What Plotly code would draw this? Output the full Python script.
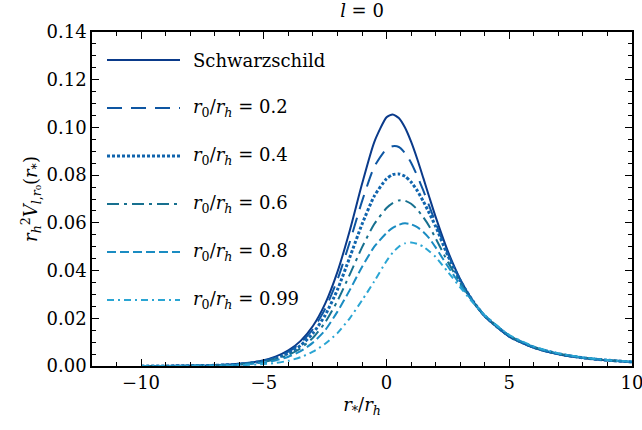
import plotly.graph_objects as go

# ---------------- data ----------------
r_star = [-10, -9, -8, -7, -6, -5, -4.5, -4, -3.5, -3, -2.5, -2, -1.5, -1, -0.5,
          0, 0.25, 0.5, 0.75, 1, 1.25, 1.5, 1.75, 2, 2.5, 3, 3.5, 4, 5, 6, 7, 8, 9, 10]

V_schw = [0.00002, 0.00005, 0.00012, 0.00034, 0.00091, 0.00245, 0.00401, 0.00652, 0.01052,
          0.01675, 0.02613, 0.03945, 0.05672, 0.07626, 0.09388, 0.10424, 0.10547, 0.10394,
          0.09995, 0.09402, 0.08676, 0.07873, 0.07052, 0.06250, 0.04806, 0.03642, 0.02749,
          0.02085, 0.01231, 0.00761, 0.00493, 0.00332, 0.00233, 0.00168]

V_02 = [0.00002, 0.00005, 0.00011, 0.00031, 0.00084, 0.00226, 0.0037, 0.0060, 0.0097,
        0.0154, 0.0240, 0.0362, 0.0519, 0.0690, 0.0835, 0.0910, 0.0921, 0.0918,
        0.0893, 0.0852, 0.0797, 0.0735, 0.0668, 0.0600, 0.0470, 0.0360, 0.0274,
        0.0209, 0.0124, 0.0077, 0.0050, 0.0034, 0.0024, 0.0017]

V_04 = [0.00002, 0.00004, 0.0001, 0.00028, 0.00075, 0.0020, 0.0033, 0.0053, 0.0086,
        0.0137, 0.0213, 0.0320, 0.0455, 0.0594, 0.0712, 0.0785, 0.0802, 0.0805,
        0.0795, 0.0771, 0.0735, 0.0690, 0.0639, 0.0585, 0.0462, 0.0358, 0.0275,
        0.0210, 0.0125, 0.0078, 0.0051, 0.0034, 0.0024, 0.0017]

V_06 = [0.00001, 0.00003, 0.00008, 0.00024, 0.00065, 0.00175, 0.0029, 0.0046, 0.0074,
        0.0118, 0.0183, 0.0273, 0.0383, 0.0497, 0.0595, 0.0662, 0.0683, 0.0694,
        0.0693, 0.0680, 0.0656, 0.0623, 0.0584, 0.0535, 0.0436, 0.0348, 0.0273,
        0.0211, 0.0126, 0.0079, 0.0051, 0.0035, 0.0024, 0.0018]

V_08 = [0.00001, 0.00003, 0.00007, 0.0002, 0.00055, 0.0015, 0.0024, 0.0039, 0.0062,
        0.0098, 0.0150, 0.0228, 0.0318, 0.0415, 0.0500, 0.0558, 0.0579, 0.0592,
        0.0598, 0.0594, 0.0582, 0.0562, 0.0534, 0.0497, 0.0417, 0.0341, 0.0272,
        0.0213, 0.0129, 0.0080, 0.0052, 0.0035, 0.0025, 0.0018]

V_099 = [0.000005, 0.00002, 0.00004, 0.00012, 0.0003, 0.0008, 0.0013, 0.0022, 0.0037,
         0.0060, 0.0093, 0.0138, 0.0200, 0.0275, 0.0355, 0.0440, 0.0475, 0.0500,
         0.0514, 0.0518, 0.0512, 0.0500, 0.0480, 0.0457, 0.0394, 0.0330, 0.0268,
         0.0212, 0.0130, 0.0082, 0.0053, 0.0036, 0.0025, 0.0018]

labels = ["Schwarzschild",
          "<i>r</i><sub>0</sub>/<i>r</i><sub><i>h</i></sub> = 0.2",
          "<i>r</i><sub>0</sub>/<i>r</i><sub><i>h</i></sub> = 0.4",
          "<i>r</i><sub>0</sub>/<i>r</i><sub><i>h</i></sub> = 0.6",
          "<i>r</i><sub>0</sub>/<i>r</i><sub><i>h</i></sub> = 0.8",
          "<i>r</i><sub>0</sub>/<i>r</i><sub><i>h</i></sub> = 0.99"]
series = [V_schw, V_02, V_04, V_06, V_08, V_099]

# ---------------- styles ----------------
colors = ["#0a3a8a", "#0e56a2", "#1064ad", "#17708f", "#1a8cc2", "#2aa5d3"]
dashes = ["solid", "15px,9px", "3px,2px", "12px,5px,3px,5px", "9px,4px", "7px,4px,2px,4px"]
widths = [2, 2, 3, 2, 2, 2]

FONT = "DejaVu Serif"
FS = 18

fig = go.Figure()
for ys, c, d, w, name in zip(series, colors, dashes, widths, labels):
    fig.add_trace(go.Scatter(x=r_star, y=ys, mode="lines", name=name,
                             line=dict(color=c, dash=d, width=w, shape="spline", smoothing=0.6),
                             showlegend=False))

# manual legend (line samples + text) in paper coordinates
L, R, T, B = 92, 632, 32, 366
pw, ph = R - L, B - T
row_y = [60, 108, 156, 204, 252, 300]
for yy, c, d, w, name in zip(row_y, colors, dashes, widths, labels):
    yp = 1 - (yy - T) / ph
    fig.add_shape(type="line", xref="paper", yref="paper",
                  x0=(107 - L) / pw, x1=(180 - L) / pw, y0=yp, y1=yp,
                  line=dict(color=c, dash=d, width=w))
    fig.add_annotation(xref="paper", yref="paper", x=(191 - L) / pw, y=yp,
                       text=name, showarrow=False, xanchor="left", yanchor="middle",
                       font=dict(family=FONT, size=FS, color="black"))

fig.update_layout(
    width=642, height=430,
    margin=dict(l=L, r=642 - R, t=T, b=430 - B, autoexpand=False),
    paper_bgcolor="white", plot_bgcolor="white",
    font=dict(family=FONT, size=FS, color="black"),
    title=dict(text="<i>l</i> = 0", x=(362) / 642, xanchor="center",
               y=1 - 11 / 430, yanchor="middle", font=dict(family=FONT, size=FS)),
)

fig.update_xaxes(range=[-12, 10], tickvals=[-10, -5, 0, 5, 10], automargin=False,
                 ticklabeloverflow="allow",
                 ticks="inside", ticklen=7, tickwidth=1.3, tickcolor="black",
                 minor=dict(ticks="inside", ticklen=4, dtick=1, tickwidth=1.1, tickcolor="black"),
                 showline=True, linecolor="black", linewidth=1.5, mirror="ticks",
                 showgrid=False, zeroline=False,
                 tickfont=dict(family=FONT, size=FS),
                 title=dict(text="<i>r</i><sub>*</sub>/<i>r</i><sub><i>h</i></sub>",
                            font=dict(family=FONT, size=FS), standoff=6))
fig.update_yaxes(range=[0, 0.14], dtick=0.02, tickformat=".2f", automargin=False,
                 ticklabeloverflow="allow",
                 ticks="inside", ticklen=7, tickwidth=1.3, tickcolor="black",
                 minor=dict(ticks="inside", ticklen=4, dtick=0.005, tickwidth=1.1, tickcolor="black"),
                 showline=True, linecolor="black", linewidth=1.5, mirror="ticks",
                 showgrid=False, zeroline=False,
                 tickfont=dict(family=FONT, size=FS),
                 title=dict(text="<i>r</i><sub><i>h</i></sub><sup>2</sup><i>V</i><sub><i>l</i>,<i>r</i>₀</sub>(<i>r</i><sub>*</sub>)",
                            font=dict(family=FONT, size=FS), standoff=4))

fig.write_html("out.html")
